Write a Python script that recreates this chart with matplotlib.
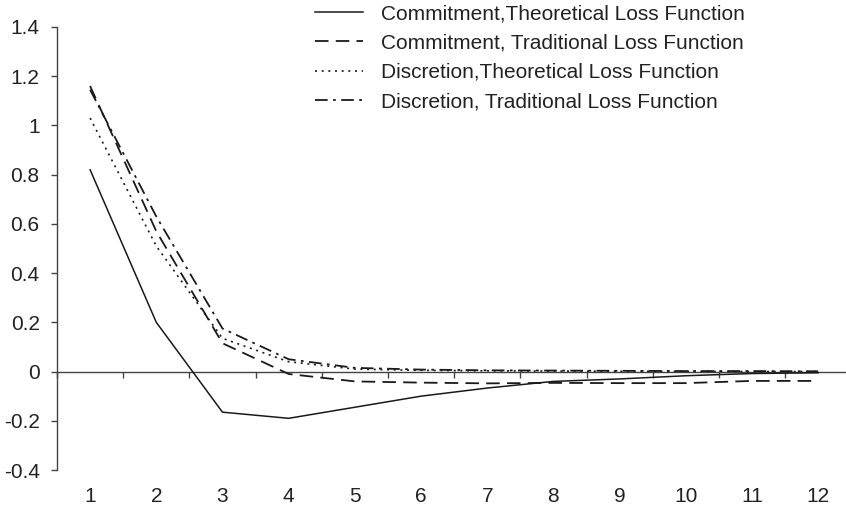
import numpy as np
import matplotlib
matplotlib.use("Agg")
from matplotlib import pyplot as plt

plt.rcParams["font.family"] = ["Liberation Sans", "DejaVu Sans"]
plt.rcParams["axes.unicode_minus"] = False

periods = list(range(1, 13))
commit_theoretical = [0.82, 0.20, -0.165, -0.19, -0.145, -0.10, -0.067, -0.04, -0.03, -0.017, -0.008, -0.005]
commit_traditional = [1.16, 0.57, 0.115, -0.01, -0.04, -0.045, -0.048, -0.046, -0.047, -0.047, -0.038, -0.038]
discr_theoretical = [1.03, 0.51, 0.135, 0.04, 0.01, 0.005, 0.003, 0.002, 0.001, 0.001, 0.0, 0.0]
discr_traditional = [1.145, 0.63, 0.175, 0.05, 0.015, 0.008, 0.005, 0.004, 0.003, 0.002, 0.002, 0.001]

series_labels = [
    "Commitment,Theoretical Loss Function",
    "Commitment, Traditional Loss Function",
    "Discretion,Theoretical Loss Function",
    "Discretion, Traditional Loss Function",
]
ytick_values = [1.4, 1.2, 1.0, 0.8, 0.6, 0.4, 0.2, 0.0, -0.2, -0.4]
ytick_labels = ["1.4", "1.2", "1", "0.8", "0.6", "0.4", "0.2", "0", "-0.2", "-0.4"]

fig = plt.figure(figsize=(8.46, 5.07), dpi=100)
ax = fig.add_axes([57 / 846, 37 / 507, 789 / 846, 443 / 507])

ax.plot(periods, commit_theoretical, color="#1a1a1a", lw=1.1, ls="-", label=series_labels[0])
ax.plot(periods, commit_traditional, color="#1a1a1a", lw=1.3, ls=(0, (7.5, 4)), label=series_labels[1])
ax.plot(periods, discr_theoretical, color="#1a1a1a", lw=1.2, ls=(0, (1.2, 2.8)), label=series_labels[2])
ax.plot(periods, discr_traditional, color="#1a1a1a", lw=1.3, ls=(0, (7, 3, 1.5, 3)), label=series_labels[3])

ax.set_xlim(0.5, 12.42)
ax.set_ylim(-0.4, 1.4)

for side in ["top", "right", "bottom"]:
    ax.spines[side].set_visible(False)
ax.spines["left"].set_color("#444444")
ax.spines["left"].set_linewidth(1.0)

ax.set_yticks(ytick_values)
ax.set_yticklabels(ytick_labels)
ax.tick_params(axis="y", direction="out", length=4.5, width=1.0, color="#444444",
               pad=8, labelsize=15, labelcolor="#222222")
ax.set_xticks(periods)
ax.set_xticklabels([str(p) for p in periods])
ax.tick_params(axis="x", length=0, pad=12, labelsize=15, labelcolor="#222222")

# zero line carrying the category-boundary ticks
zero_frac = (0 - (-0.4)) / (1.4 - (-0.4))
sec = ax.secondary_xaxis(zero_frac)
sec.set_xticks(np.arange(0.5, 12.5, 1.0))
sec.set_xticklabels([])
sec.tick_params(axis="x", direction="out", length=4.5, width=1.0, color="#444444")
sec.spines["bottom"].set_color("#444444")
sec.spines["bottom"].set_linewidth(1.0)

ax.legend(loc="upper left", bbox_to_anchor=(315 / 846, 1 - 4 / 507), bbox_transform=fig.transFigure,
          frameon=False, fontsize=15, handlelength=2.3, handletextpad=0.87,
          labelspacing=0.5, borderpad=0, borderaxespad=0, labelcolor="#222222")

plt.savefig("out.png", dpi=100)
